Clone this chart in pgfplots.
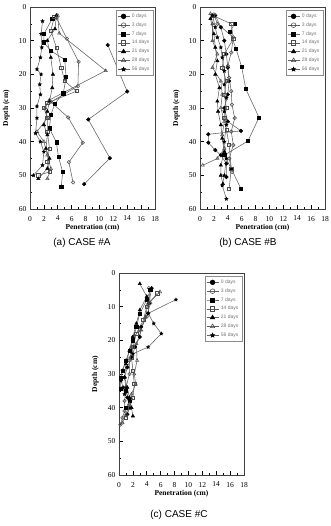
\documentclass[border=0pt]{standalone}
\usepackage{pgfplots}
\pgfplotsset{compat=1.18}
\usepackage{fontspec}
\setmainfont{Liberation Serif}
\newfontfamily\capfont{Liberation Sans}
\usetikzlibrary{plotmarks}

% filled five-pointed star mark
\pgfdeclareplotmark{fstar}{%
  \pgfpathmoveto{\pgfpointpolar{90}{\pgfplotmarksize}}%
  \pgfpathlineto{\pgfpointpolar{126}{0.45\pgfplotmarksize}}%
  \pgfpathlineto{\pgfpointpolar{162}{\pgfplotmarksize}}%
  \pgfpathlineto{\pgfpointpolar{198}{0.45\pgfplotmarksize}}%
  \pgfpathlineto{\pgfpointpolar{234}{\pgfplotmarksize}}%
  \pgfpathlineto{\pgfpointpolar{270}{0.45\pgfplotmarksize}}%
  \pgfpathlineto{\pgfpointpolar{306}{\pgfplotmarksize}}%
  \pgfpathlineto{\pgfpointpolar{342}{0.45\pgfplotmarksize}}%
  \pgfpathlineto{\pgfpointpolar{18}{\pgfplotmarksize}}%
  \pgfpathlineto{\pgfpointpolar{54}{0.45\pgfplotmarksize}}%
  \pgfpathclose\pgfusepathqfillstroke}

\pgfplotsset{
  pen/.style={
    scale only axis, width=125pt, height=202pt,
    xmin=0, xmax=18, ymin=0, ymax=60, y dir=reverse,
    xtick={0,2,...,18}, minor xtick={1,3,...,17},
    ytick={0,10,...,60}, minor ytick={5,15,...,55},
    xtick pos=bottom, ytick pos=left, tick align=inside,
    major tick length=4pt, minor tick length=2pt,
    tick style={black, line width=0.6pt},
    axis line style={black!75, line width=1pt},
    /pgf/number format/assume math mode=true,
    ticklabel style={font=\fontsize{7.5}{9}\selectfont},
    xticklabel style={yshift=-3.5pt},
    xlabel={Penetration (cm)}, ylabel={Depth (cm)},
    label style={font=\fontsize{7.5}{9}\selectfont\bfseries},
    xlabel style={at={(axis description cs:0.5,-0.094)}, anchor=center},
    ylabel style={at={(axis description cs:-0.19,0.5)}, anchor=center},
    legend style={at={(axis description cs:0.985,0.985)}, anchor=north east,
      draw=black!45, line width=0.5pt, fill=white,
      font=\capfont\fontsize{5}{6}\selectfont, text=black!55,
      inner sep=1.5pt, row sep=-0.3pt, cells={anchor=west}},
    legend image code/.code={
      \draw[mark repeat=2, mark phase=2, #1, every mark/.append style={scale=1.35}]
        plot coordinates {(0pt,0pt) (6pt,0pt) (12pt,0pt)};},
    every axis plot/.append style={line width=0.55pt, color=black!62},
  },
  d0/.style={mark=*, mark size=1.75pt, mark options={draw=black, fill=black}},
  d3/.style={mark=o, mark size=1.75pt, mark options={draw=black!70, fill=white}},
  d7/.style={mark=square*, mark size=1.6pt, mark options={draw=black, fill=black}},
  d14/.style={mark=square, mark size=1.6pt, mark options={draw=black!70, fill=white}},
  d21/.style={mark=triangle*, mark size=1.85pt, mark options={draw=black, fill=black}},
  d28/.style={mark=triangle, mark size=1.85pt, mark options={draw=black!70, fill=white}},
  d56/.style={mark=fstar, mark size=1.6pt, mark options={draw=black, fill=black}},
}

\begin{document}
\begin{tikzpicture}
\path[use as bounding box] (0,0) rectangle (331pt,-526pt);

% ---------------- CASE #A ----------------
\begin{axis}[pen, at={(30pt,-209pt)}, anchor=south west]
\addplot[d0] coordinates {(11.2,11.3) (14.0,25.1) (8.4,33.4) (11.5,44.9) (7.8,52.6)};
\addplot[d3] coordinates {(3.8,3.2) (5.3,9.4) (7.0,16.3) (6.9,23.5) (3.0,28.2) (5.5,32.8) (7.6,40.3) (5.6,46.1) (6.2,52.1)};
\addplot[d7] coordinates {(3.2,3.5) (2.0,8.0) (2.0,10.5) (3.0,13.0) (5.0,15.6) (5.2,20.8) (4.8,25.6) (3.6,28.7) (3.0,32.0) (2.8,36.0) (3.8,40.2) (4.1,44.5) (4.7,49.0) (4.5,53.5)};
\addplot[d14] coordinates {(3.5,3.0) (3.0,7.0) (3.8,12.0) (4.5,18.0) (5.0,22.0) (6.7,25.0) (2.5,28.5) (2.0,30.0) (2.5,33.0) (2.5,37.0) (2.8,42.0) (2.5,46.0) (2.8,49.0) (1.2,50.0)};
\addplot[d21] coordinates {(3.8,2.5) (3.6,6.5) (2.5,10.0) (3.0,15.0) (3.3,20.0) (3.2,24.0) (2.8,28.0) (2.5,31.0) (2.0,35.0) (2.5,38.0) (2.3,42.0) (2.8,45.0) (2.5,48.0) (1.2,51.0)};
\addplot[d28] coordinates {(4.0,2.5) (4.2,7.8) (10.9,18.9) (2.8,27.6) (2.2,30.0) (2.5,33.0) (1.0,37.0) (2.0,40.0) (2.5,44.0) (3.0,48.0) (2.5,51.0)};
\addplot[d56] coordinates {(1.8,4.2) (1.6,8.0) (1.7,12.0) (1.5,15.0) (1.0,18.5) (1.6,20.0) (1.4,23.0) (1.5,26.0) (1.0,29.5) (1.0,33.0) (0.8,37.5) (1.5,40.0) (2.0,43.0) (1.8,47.0) (0.5,50.0)};
\legend{0 days, 3 days, 7 days, 14 days, 21 days, 28 days, 56 days}
\end{axis}

% ---------------- CASE #B ----------------
\begin{axis}[pen, at={(200pt,-209pt)}, anchor=south west]
\addplot[d0] coordinates {(2.2,2.5) (3.0,6.0) (3.5,10.0) (3.8,14.0) (4.0,18.0) (4.2,22.0) (4.0,26.0) (3.5,30.0) (4.0,34.0) (5.9,36.8) (1.2,37.8) (1.2,40.3) (2.2,42.5) (3.0,44.0) (3.8,46.5) (3.8,50.5)};
\addplot[d3] coordinates {(2.0,2.2) (2.5,5.0) (4.8,9.0) (4.5,13.5) (4.0,17.5) (4.2,21.0) (4.5,25.0) (4.6,29.0) (5.0,33.0) (4.5,37.0) (4.8,41.0) (4.2,45.0) (4.6,49.0)};
\addplot[d7] coordinates {(5.0,5.0) (4.3,7.3) (5.2,12.5) (6.0,17.8) (6.6,24.4) (8.5,32.8) (6.9,39.8) (3.5,44.0) (4.5,48.0) (5.9,54.0)};
\addplot[d14] coordinates {(1.8,2.5) (4.5,5.0) (4.8,9.5) (3.5,14.0) (3.2,18.0) (3.8,22.0) (3.5,26.0) (3.8,30.0) (3.5,33.0) (3.8,36.5) (4.2,41.0) (4.5,48.0) (4.2,54.0)};
\addplot[d21] coordinates {(1.5,3.5) (2.0,8.0) (2.2,12.0) (2.5,16.0) (2.2,20.0) (2.8,24.0) (2.5,28.0) (2.6,31.0) (3.0,35.0) (3.2,39.0) (3.5,43.0) (3.0,47.0) (3.0,50.0) (3.3,52.5)};
\addplot[d28] coordinates {(1.5,2.0) (1.8,5.0) (1.8,10.0) (2.5,14.0) (1.8,18.0) (3.0,22.0) (3.2,26.0) (3.0,30.0) (3.5,34.0) (3.2,38.0) (3.5,42.0) (2.5,45.0) (0.4,47.0)};
\addplot[d56] coordinates {(1.8,2.5) (2.2,6.0) (2.5,9.0) (3.0,12.0) (3.2,15.0) (3.5,19.0) (3.5,23.0) (3.8,27.0) (3.5,31.0) (3.8,35.0) (3.5,40.0) (3.8,45.0) (3.5,50.0) (3.2,53.0) (3.8,57.0)};
\legend{0 days, 3 days, 7 days, 14 days, 21 days, 28 days, 56 days}
\end{axis}

% ---------------- CASE #C ----------------
\begin{axis}[pen, at={(119pt,-475pt)}, anchor=south west]
\addplot[d0] coordinates {(4.7,4.5) (4.3,9.0) (4.2,12.0) (3.2,16.0) (3.0,19.0) (2.3,22.0) (1.8,25.0) (1.2,28.0) (0.8,31.0) (1.0,34.0) (1.2,37.0) (1.5,40.0) (1.2,42.0)};
\addplot[d3] coordinates {(4.3,4.5) (4.5,9.0) (4.0,13.0) (3.0,17.0) (2.0,19.0) (1.8,22.0) (1.5,26.0) (1.5,30.0) (1.0,34.0) (0.8,38.0) (0.8,41.0) (0.5,43.0) (0.2,45.0)};
\addplot[d7] coordinates {(4.5,5.0) (4.0,8.0) (3.0,12.0) (2.5,16.0) (2.0,20.0) (1.5,23.0) (1.0,26.0) (0.5,29.0) (0.2,31.0) (0.2,34.5) (1.0,35.0) (1.5,38.0) (1.0,40.0)};
\addplot[d14] coordinates {(5.5,6.0) (4.0,10.0) (3.5,14.0) (2.5,18.0) (2.0,22.0) (1.8,25.0) (2.0,29.0) (2.2,33.0) (2.0,37.0) (1.5,40.0) (1.0,43.0)};
\addplot[d21] coordinates {(3.0,3.2) (4.0,7.0) (3.0,11.0) (2.5,15.0) (2.0,19.0) (1.5,23.0) (1.0,27.0) (0.8,31.0) (1.2,34.0) (1.5,37.0) (1.8,40.0) (2.0,42.5)};
\addplot[d28] coordinates {(5.9,5.6) (4.2,9.0) (3.8,13.0) (3.2,17.0) (2.5,21.0) (2.6,26.0) (2.2,30.0) (2.4,33.0) (1.8,36.0) (1.5,39.0) (1.0,42.0) (0.5,44.5)};
\addplot[d56] coordinates {(8.2,7.9) (4.2,12.0) (5.0,15.0) (6.1,18.0) (4.2,22.0) (2.0,24.0) (1.0,26.0) (0.5,29.0) (0.3,32.0) (0.6,34.0) (0.8,36.0)};
\legend{0 days, 3 days, 7 days, 14 days, 21 days, 28 days, 56 days}
\end{axis}

% panel captions
\node[font=\capfont\fontsize{10}{12}\selectfont] at (82pt,-243pt) {(a) CASE \#A};
\node[font=\capfont\fontsize{10}{12}\selectfont] at (248pt,-243pt) {(b) CASE \#B};
\node[font=\capfont\fontsize{10}{12}\selectfont] at (179pt,-515pt) {(c) CASE \#C};
\end{tikzpicture}
\end{document}
